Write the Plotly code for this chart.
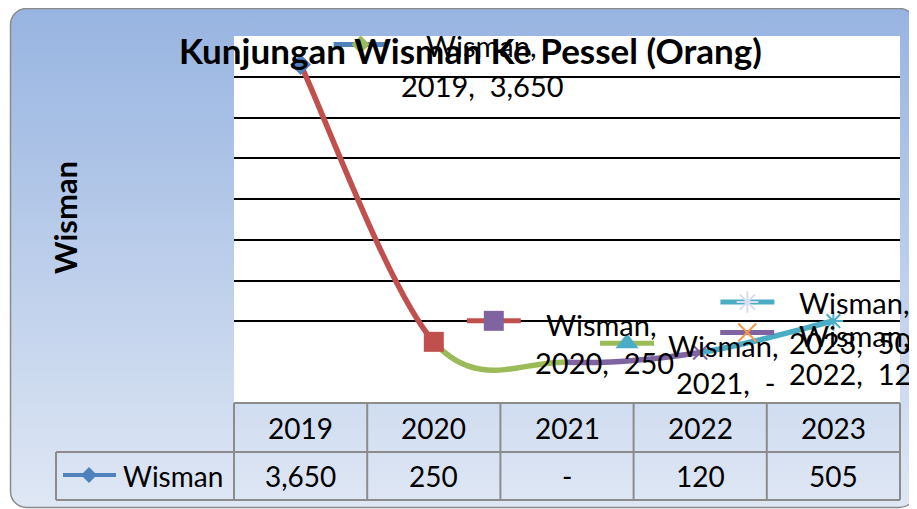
import base64
import plotly.graph_objects as go

# data
years = ["2019", "2020", "2021", "2022", "2023"]
wisman = [3650, 250, 0, 120, 505]
grid_values = [500, 1000, 1500, 2000, 2500, 3000, 3500, 4000]
series_name = "Wisman"
title = "Kunjungan Wisman Ke Pessel (Orang)"


def fmt(v):
    return f"{v:,}" if v else "-"


# geometry: positions below are screen pixels; the page body adds an 8px margin
O = 8
W, H = 917 - O, 509 - O
L, T, PW, PH = 234 - O, 36 - O, 666, 367
R, B = W - L - PW, H - T - PH
Y_RANGE = [-500, 4000]
PX_X = PW / len(years)
PX_Y = PH / (Y_RANGE[1] - Y_RANGE[0])


def px(xs_):
    return (xs_ - O - L) / PW


def py(ys_):
    return (T + PH + O - ys_) / PH


seg_colors = ["#C0504D", "#9BBB59", "#8064A2", "#4BACC6"]
pt_symbols = ["diamond", "square", "triangle-up", "x-thin", "asterisk"]
pt_colors = ["#4F81BD", "#C0504D", "#9BBB59", "#8064A2", "#4BACC6"]
pt_sizes = [16, 20, 0, 14, 16]
key_line_colors = ["#4F81BD", "#C0504D", "#9BBB59", "#8064A2", "#4BACC6"]
key_mk_colors = ["#9BBB59", "#8064A2", "#4BACC6", "#F79646", "#D9DDF0"]
key_mk_sizes = [14, 20, 20, 18, 18]
# label offsets in px: key centre, "Wisman," left, second line left  (dx, up)
key_off = [(60, 20), (60, 21), (60, 19), (47, 20), (-86, 19)]
name_off = [(123, 19), (110, 17), (99, 17), (97, 17), (-36, 19)]
val_off = [(98, -21), (99, -21), (107, -20), (87, -21), (-46, -21)]

label_font = dict(family="Lato", size=29, color="black")
table_font = dict(family="Lato", size=28, color="black")

xs = list(range(len(years)))
fig = go.Figure()

# smoothed line (Excel-style cubic segments), one colour per segment
pts = list(zip(xs, wisman))
for k, c in enumerate(seg_colors):
    p0, p3 = pts[k], pts[k + 1]
    prev = pts[k - 1] if k > 0 else p0
    nxt = pts[k + 2] if k + 2 < len(pts) else p3
    c1 = (p0[0] + (p3[0] - prev[0]) / 6, p0[1] + (p3[1] - prev[1]) / 6)
    c2 = (p3[0] - (nxt[0] - p0[0]) / 6, p3[1] - (nxt[1] - p0[1]) / 6)
    fig.add_shape(type="path", xref="x", yref="y", layer="between",
                  path=(f"M {p0[0]},{p0[1]} C {c1[0]},{c1[1]} {c2[0]},{c2[1]} "
                        f"{p3[0]},{p3[1]}"),
                  line=dict(color=c, width=5.5))

# point markers
for i, v in enumerate(wisman):
    if not pt_sizes[i]:
        continue
    thin = pt_symbols[i] in ("x-thin", "asterisk")
    fig.add_trace(go.Scatter(
        x=[i], y=[v], mode="markers", hoverinfo="skip",
        marker=dict(symbol=pt_symbols[i], size=pt_sizes[i], color=pt_colors[i],
                    line=dict(color=pt_colors[i], width=2 if thin else 0))))

# data labels with legend keys
for i, v in enumerate(wisman):
    dx, up = key_off[i]
    ky = v + up / PX_Y
    fig.add_trace(go.Scatter(
        x=[i + (dx - 27) / PX_X, i + (dx + 27) / PX_X], y=[ky, ky], mode="lines",
        hoverinfo="skip", line=dict(color=key_line_colors[i], width=5)))
    thin = pt_symbols[i] in ("x-thin", "asterisk")
    fig.add_trace(go.Scatter(
        x=[i + dx / PX_X], y=[ky], mode="markers", hoverinfo="skip",
        marker=dict(symbol=pt_symbols[i], size=key_mk_sizes[i], color=key_mk_colors[i],
                    line=dict(color=key_mk_colors[i], width=2 if thin else 0))))
    fig.add_annotation(x=i, y=v, xref="x", yref="y", xshift=name_off[i][0], yshift=name_off[i][1],
                       text=series_name + ",", showarrow=False, xanchor="left", yanchor="middle",
                       font=label_font)
    fig.add_annotation(x=i, y=v, xref="x", yref="y", xshift=val_off[i][0], yshift=val_off[i][1],
                       text=f"{years[i]},\u00a0\u00a0{fmt(v)}", showarrow=False,
                       xanchor="left", yanchor="middle", font=label_font)

# data table below the plot
tbl = dict(color="#8C8C8C", width=2)
x_edges = [234 + PX_X * k for k in range(len(years) + 1)]
for yp, x0 in [(403, 234), (452, 56), (500, 56)]:
    fig.add_shape(type="line", xref="paper", yref="paper", x0=px(x0), x1=px(x_edges[-1]),
                  y0=py(yp), y1=py(yp), line=tbl)
for xe in x_edges:
    fig.add_shape(type="line", xref="paper", yref="paper", x0=px(xe), x1=px(xe),
                  y0=py(403), y1=py(500), line=tbl)
fig.add_shape(type="line", xref="paper", yref="paper", x0=px(56), x1=px(56),
              y0=py(452), y1=py(500), line=tbl)
for i, v in enumerate(wisman):
    fig.add_annotation(x=i, y=py(428), xref="x", yref="paper", text=years[i], showarrow=False,
                       xanchor="center", yanchor="middle", font=table_font)
    fig.add_annotation(x=i, y=py(476), xref="x", yref="paper", text=fmt(v), showarrow=False,
                       xanchor="center", yanchor="middle", font=table_font)
fig.add_shape(type="line", xref="paper", yref="paper", x0=px(63), x1=px(116),
              y0=py(475), y1=py(475), line=dict(color="#4F81BD", width=4))
fig.add_shape(type="path", xref="paper", yref="paper",
              path=(f"M {px(89)} {py(467)} L {px(97)} {py(475)} L {px(89)} {py(483)} "
                    f"L {px(81)} {py(475)} Z"),
              fillcolor="#4F81BD", line=dict(width=0))
fig.add_annotation(x=px(121), y=py(476), xref="paper", yref="paper", text=series_name,
                   showarrow=False, xanchor="left", yanchor="middle", font=table_font)

# titles
fig.add_annotation(x=px(470), y=py(50), xref="paper", yref="paper", text=title, showarrow=False,
                   xanchor="center", yanchor="middle",
                   font=dict(family="Lato", size=35, color="black", weight="bold"))
fig.add_annotation(x=px(65), y=py(218), xref="paper", yref="paper", text=series_name,
                   textangle=-90, showarrow=False, xanchor="center", yanchor="middle",
                   font=dict(family="Lato", size=31, color="black", weight="bold"))

# gradient chart-area background with the white plot area
svg = (f'<svg xmlns="http://www.w3.org/2000/svg" width="{W}" height="{H}" viewBox="0 0 {W} {H}" '
       'preserveAspectRatio="none"><defs><linearGradient id="g" x1="0" y1="0" x2="0" y2="1">'
       '<stop offset="0" stop-color="#97B4E1"/><stop offset="1" stop-color="#DFE7F4"/>'
       '</linearGradient></defs><rect x="2.5" y="0.5" width="905" height="499" rx="16" '
       'fill="url(#g)" stroke="#8A8A8A" stroke-width="1.5"/>'
       f'<rect x="{L}" y="{T}" width="{PW}" height="{PH}" fill="white"/></svg>')
fig.add_layout_image(source="data:image/svg+xml;base64," + base64.b64encode(svg.encode()).decode(),
                     xref="paper", yref="paper", x=-L / PW, y=1 + T / PH, sizex=W / PW, sizey=H / PH,
                     xanchor="left", yanchor="top", sizing="stretch", layer="below")

fig.update_layout(
    width=W, height=H,
    margin=dict(l=L, r=R, t=T, b=B),
    paper_bgcolor="white", plot_bgcolor="rgba(0,0,0,0)",
    showlegend=False, hovermode=False,
    xaxis=dict(range=[-0.5, len(years) - 0.5], visible=False),
    yaxis=dict(range=Y_RANGE, tickvals=grid_values, showgrid=True, gridcolor="black",
               gridwidth=1.5, zeroline=False, showticklabels=False, ticks=""),
)

fig.write_html("out.html")
